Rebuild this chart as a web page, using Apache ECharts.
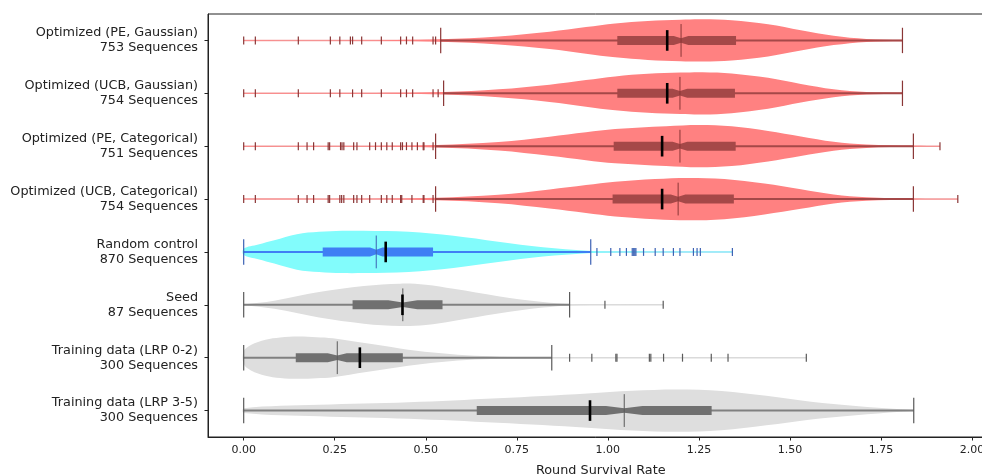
<!DOCTYPE html>
<html><head><meta charset="utf-8">
<script src="https://cdn.jsdelivr.net/npm/echarts@6/dist/echarts.min.js"></script>
<style>html,body{margin:0;padding:0;background:#fff}#c{width:982px;height:476px}</style>
</head><body><div id="c"></div>
<script>
// ---- data ----
const categories = [
  'Optimized (PE, Gaussian)\n753 Sequences',
  'Optimized (UCB, Gaussian)\n754 Sequences',
  'Optimized (PE, Categorical)\n751 Sequences',
  'Optimized (UCB, Categorical)\n754 Sequences',
  'Random control\n870 Sequences',
  'Seed\n87 Sequences',
  'Training data (LRP 0-2)\n300 Sequences',
  'Training data (LRP 3-5)\n300 Sequences'
];
const xTicks = [0, 0.25, 0.5, 0.75, 1.0, 1.25, 1.5, 1.75, 2.0];
const boxQ1 = [1.026, 1.026, 1.016, 1.013, 0.217, 0.299, 0.143, 0.640];
const boxQ3 = [1.352, 1.349, 1.351, 1.346, 0.520, 0.546, 0.437, 1.285];
const medians = [1.201, 1.198, 1.198, 1.193, 0.364, 0.437, 0.257, 1.045];
const means = [1.163, 1.163, 1.149, 1.149, 0.390, 0.436, 0.319, 0.951];
const whiskerLow = [0.541, 0.549, 0.527, 0.527, 0, 0, 0, 0];
const whiskerHigh = [1.809, 1.809, 1.839, 1.839, 0.953, 0.895, 0.846, 1.840];
const notchHalf = [0.02, 0.02, 0.02, 0.02, 0.017, 0.04, 0.026, 0.05];
const dataMin = [0, 0, 0, 0, 0, 0, 0, 0];
const dataMax = [1.809, 1.809, 1.912, 1.961, 1.343, 1.153, 1.546, 1.840];

const outliersPEGauss = [0, 0.032, 0.150, 0.238, 0.264, 0.293, 0.299, 0.324, 0.378, 0.431, 0.447, 0.464, 0.520, 0.527];
const outliersUCBGauss = [0, 0.032, 0.150, 0.238, 0.264, 0.299, 0.324, 0.378, 0.431, 0.447, 0.464, 0.520, 0.534];
const outliersPECat = [0, 0.032, 0.150, 0.174, 0.192, 0.232, 0.236, 0.266, 0.270, 0.275, 0.302, 0.311, 0.346, 0.362, 0.378, 0.393, 0.408, 0.431, 0.436, 0.447, 0.462, 0.477, 0.493, 0.495, 0.520, 1.912];
const outliersUCBCat = [0, 0.032, 0.150, 0.174, 0.192, 0.232, 0.236, 0.264, 0.269, 0.275, 0.302, 0.311, 0.324, 0.346, 0.378, 0.393, 0.408, 0.431, 0.434, 0.462, 0.493, 0.495, 0.520, 1.961];
const outliersRandom = [0.970, 1.008, 1.033, 1.051, 1.067, 1.071, 1.074, 1.077, 1.098, 1.130, 1.152, 1.180, 1.198, 1.235, 1.245, 1.254, 1.342];
const outliersSeed = [0.992, 1.152];
const outliersLRP02 = [0.895, 0.956, 1.022, 1.025, 1.114, 1.118, 1.153, 1.205, 1.284, 1.330, 1.545];
const outliersLRP35 = [];

// violin outlines: [value, relative half-width]
const violinPEGauss = [[0,0.01],[0.3,0.012],[0.54,0.06],[0.70,0.19],[0.84,0.41],[0.94,0.63],[1.02,0.80],[1.11,0.92],[1.2,0.98],[1.26,1.0],[1.34,0.95],[1.44,0.76],[1.53,0.48],[1.62,0.22],[1.71,0.07],[1.809,0.01]];
const violinUCBGauss = [[0,0.01],[0.3,0.012],[0.55,0.06],[0.70,0.19],[0.84,0.41],[0.94,0.63],[1.02,0.80],[1.11,0.92],[1.2,0.98],[1.26,1.0],[1.34,0.94],[1.44,0.73],[1.53,0.44],[1.62,0.19],[1.71,0.06],[1.809,0.01]];
const violinPECat = [[0,0.01],[0.3,0.012],[0.53,0.06],[0.70,0.2],[0.84,0.45],[0.94,0.66],[1.02,0.81],[1.16,0.94],[1.25,1.0],[1.34,0.94],[1.44,0.72],[1.53,0.46],[1.62,0.21],[1.71,0.08],[1.84,0.015],[1.912,0.005]];
const violinUCBCat = [[0,0.01],[0.3,0.012],[0.53,0.06],[0.70,0.2],[0.84,0.45],[0.94,0.66],[1.02,0.82],[1.13,0.95],[1.22,1.0],[1.32,0.95],[1.43,0.73],[1.53,0.46],[1.62,0.21],[1.71,0.08],[1.84,0.015],[1.961,0.005]];
const violinRandom = [[0,0.15],[0.04,0.35],[0.084,0.55],[0.146,0.84],[0.207,0.95],[0.27,1.0],[0.33,1.0],[0.453,0.95],[0.576,0.76],[0.699,0.48],[0.822,0.22],[0.944,0.06],[1.05,0.015],[1.343,0.005]];
const violinSeed = [[0,0.01],[0.084,0.19],[0.207,0.6],[0.33,0.89],[0.43,1.0],[0.5,0.95],[0.576,0.76],[0.699,0.41],[0.822,0.13],[0.9,0.03],[1.0,0.01],[1.153,0.005]];
const violinLRP02 = [[0,0.3],[0.02,0.6],[0.06,0.85],[0.1,0.96],[0.15,1.0],[0.2,0.97],[0.245,0.92],[0.337,0.68],[0.429,0.44],[0.52,0.24],[0.612,0.11],[0.703,0.05],[0.85,0.015],[1.0,0.008],[1.546,0.004]];
const violinLRP35 = [[0,0.11],[0.207,0.27],[0.453,0.39],[0.698,0.58],[0.944,0.81],[1.067,0.94],[1.19,1.0],[1.312,0.93],[1.435,0.7],[1.558,0.42],[1.681,0.22],[1.804,0.06],[1.84,0.01]];

const outliers = [outliersPEGauss, outliersUCBGauss, outliersPECat, outliersUCBCat, outliersRandom, outliersSeed, outliersLRP02, outliersLRP35];
const violins = [violinPEGauss, violinUCBGauss, violinPECat, violinUCBCat, violinRandom, violinSeed, violinLRP02, violinLRP35];

// ---- styles ----
const RED = {violin:'#ff8181', ext:'#f29a9a', box:'#a54848', whisker:'#a54848', dark:'#8a3636'};
const CYAN = {violin:'#82fcfc', ext:'#8ae2f6', box:'#3f7ff4', whisker:'#3f7ff4', dark:'#3c62b4'};
const GRAY = {violin:'#dedede', ext:'#d9d9d9', box:'#707070', whisker:'#808080', dark:'#5a5a5a'};
const rowStyle = [RED, RED, RED, RED, CYAN, GRAY, GRAY, GRAY];

function renderItem(params, api) {
  const i = params.dataIndex;
  const st = rowStyle[i];
  const band = api.size([0, 1])[1];
  const cy = api.coord([0, i])[1];
  const X = v => api.coord([v, i])[0];
  const hw = 0.4 * band;
  const children = [];
  const prof = violins[i];
  const top = prof.map(p => [X(p[0]), cy - p[1] * hw]);
  const bot = prof.slice().reverse().map(p => [X(p[0]), cy + p[1] * hw]);
  children.push({type:'line', shape:{x1:X(dataMin[i]), y1:cy, x2:X(dataMax[i]), y2:cy}, style:{stroke:st.ext, lineWidth:1.5}});
  children.push({type:'polygon', shape:{points: top.concat(bot), smooth:0.35}, style:{fill:st.violin}});
  children.push({type:'line', shape:{x1:X(whiskerLow[i]), y1:cy, x2:X(whiskerHigh[i]), y2:cy}, style:{stroke:st.whisker, lineWidth:2}});
  const ch = 0.24 * band;
  [whiskerLow[i], whiskerHigh[i]].forEach(v => {
    children.push({type:'line', shape:{x1:X(v), y1:cy - ch, x2:X(v), y2:cy + ch}, style:{stroke:st.dark, lineWidth:1.2}});
  });
  const oh = 0.075 * band;
  outliers[i].forEach(v => {
    children.push({type:'line', shape:{x1:X(v), y1:cy - oh, x2:X(v), y2:cy + oh}, style:{stroke:st.dark, lineWidth:1.2}});
  });
  const bh = 0.085 * band;
  const m = medians[i], n = notchHalf[i];
  const bp = [
    [X(boxQ1[i]), cy - bh], [X(m - n), cy - bh], [X(m), cy - bh * 0.5], [X(m + n), cy - bh], [X(boxQ3[i]), cy - bh],
    [X(boxQ3[i]), cy + bh], [X(m + n), cy + bh], [X(m), cy + bh * 0.5], [X(m - n), cy + bh], [X(boxQ1[i]), cy + bh]
  ];
  children.push({type:'polygon', shape:{points:bp}, style:{fill:st.box}});
  const mh = 0.31 * band;
  children.push({type:'line', shape:{x1:X(m), y1:cy - mh, x2:X(m), y2:cy + mh}, style:{stroke:st.dark, lineWidth:1}});
  const eh = 0.195 * band;
  children.push({type:'line', shape:{x1:X(means[i]), y1:cy - eh, x2:X(means[i]), y2:cy + eh}, style:{stroke:'#000', lineWidth:2.6}});
  return {type:'group', children};
}

const chart = echarts.init(document.getElementById('c'), null, {renderer:'canvas'});
const FONT = 'DejaVu Sans';
chart.setOption({
  animation: false,
  backgroundColor: '#fff',
  grid: {left: 208, top: 14, width: 785.5, height: 423, show: true, borderColor: '#222', borderWidth: 1,
         containLabel: false, outerBoundsMode: 'none'},
  xAxis: {
    type: 'value', min: -0.098, max: 2.059,
    splitLine: {show: false},
    axisLine: {show: true, onZero: false, lineStyle: {color: '#222', width: 1}},
    axisTick: {show: true, length: 3.5, lineStyle: {color: '#222'}, customValues: xTicks},
    axisLabel: {customValues: xTicks, formatter: v => v.toFixed(2), fontFamily: FONT, fontSize: 11, color: '#222', margin: 8},
    name: 'Round Survival Rate', nameLocation: 'middle', nameGap: 27,
    nameTextStyle: {fontFamily: FONT, fontSize: 12.8, color: '#222'}
  },
  yAxis: {
    type: 'category', data: categories, inverse: true,
    axisLine: {show: true, onZero: false, lineStyle: {color: '#222', width: 1}},
    axisTick: {show: true, length: 3.5, alignWithLabel: true, lineStyle: {color: '#222'}},
    axisLabel: {fontFamily: FONT, fontSize: 12.8, lineHeight: 15, color: '#222', margin: 10, align: 'right'},
    splitLine: {show: false}
  },
  series: [{
    type: 'custom',
    renderItem: renderItem,
    clip: false,
    encode: {x: 0, y: 1},
    data: categories.map((c, i) => [0, i])
  }]
});
</script></body></html>
